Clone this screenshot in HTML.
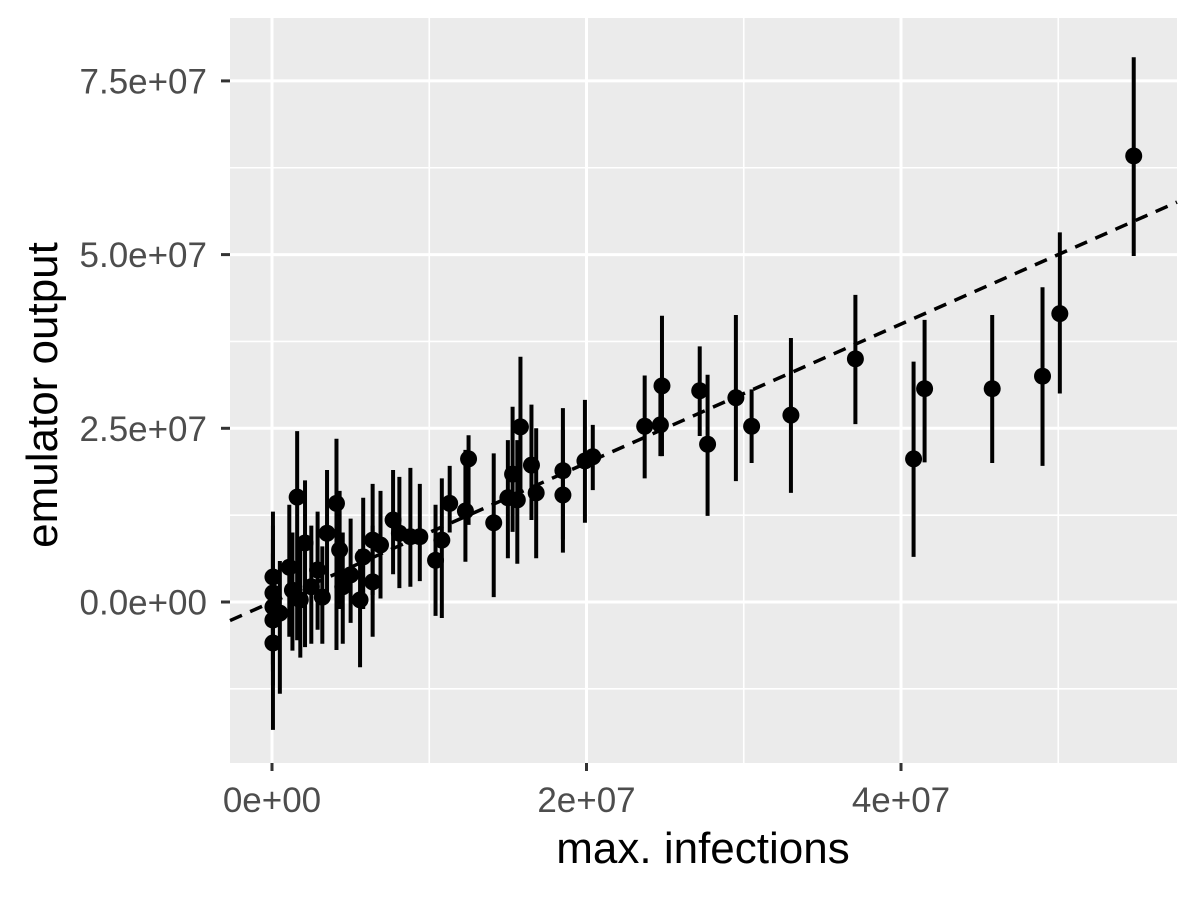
<!DOCTYPE html>
<html><head><meta charset="utf-8"><style>
html,body{margin:0;padding:0;background:#fff}
svg{display:block;font-family:"Liberation Sans",sans-serif}
</style></head><body>
<svg id="chart" width="1200" height="900">
<rect x="0" y="0" width="1200" height="900" fill="#fff"/>
<rect x="230" y="18" width="947" height="745" fill="#ebebeb"/>
<g id="grid"></g>
<g id="marks"></g>
<g id="axes"></g>
<text x="703" y="863" font-size="44" text-anchor="middle" fill="#000">max. infections</text>
<text transform="translate(57,395) rotate(-90)" font-size="44" text-anchor="middle" fill="#000">emulator output</text>
</svg>
<script>
// values in millions
const xs  = [54.8,50.1,49.0,45.8,41.5,40.8,37.1,33.0,30.5,29.5,27.7,27.2,24.8,24.7,23.7,20.4,19.9,18.5,18.5,16.8,16.5,15.8,15.6,15.3,15.0,14.1,12.5,12.3,11.3,10.8,10.4,
 8.8,8.1,9.4,6.4,5.8,6.4,5.6,4.1,3.5,4.3,4.5,1.6,2.1,2.9,3.2,1.1,0.06,0.06,0.06,0.06,0.06,0.5,1.3,1.8,2.5,6.9,5.0,7.7];
const ys  = [64.2,41.5,32.5,30.7,30.7,20.6,35.0,26.9,25.3,29.4,22.7,30.4,31.1,25.5,25.3,20.9,20.3,18.9,15.4,15.7,19.7,25.2,14.7,18.4,15.0,11.4,20.6,13.1,14.2,8.9,6.0,
 9.4,9.9,9.4,8.9,6.5,2.9,0.3,14.2,9.9,7.5,2.2,15.1,8.5,4.6,0.7,5.0,3.6,1.3,-0.7,-2.6,-5.9,-1.6,1.7,0.3,2.2,8.2,3.9,11.8];
const los = [49.8,30.0,19.6,20.0,20.1,6.5,25.6,15.7,20.0,17.4,12.4,23.9,21.0,21.0,17.8,16.1,11.4,7.1,9.0,6.3,11.8,15.1,5.5,10.1,6.3,0.7,11.1,5.8,10.0,-2.3,-2.0,
 2.2,2.0,3.0,1.0,-1.0,-5.0,-9.4,-6.9,1.0,-1.0,-6.0,-5.5,-6.5,-4.0,-6.0,-5.0,-6.0,-9.0,-10.0,-12.0,-18.4,-13.2,-7.0,-8.0,-6.0,0.5,-3.0,4.0];
const his = [78.4,53.2,45.3,41.3,40.6,34.6,44.2,38.0,30.6,41.3,32.7,36.8,41.2,31.9,32.6,25.5,29.1,27.9,24.8,25.0,28.4,35.3,23.3,28.1,23.3,21.4,24.0,21.9,19.6,17.8,14.0,
 19.3,18.0,17.0,17.0,15.0,11.0,7.6,23.5,19.0,16.0,10.0,24.6,17.5,13.0,8.0,14.0,13.0,11.0,9.0,7.0,3.3,5.9,10.0,9.0,11.0,16.0,12.0,19.0];
const xTicks = [0,20,40];
const xTickLabels = ["0e+00","2e+07","4e+07"];
const xMinor = [10,30,50];
const yTicks = [0,25,50,75];
const yTickLabels = ["0.0e+00","2.5e+07","5.0e+07","7.5e+07"];
const yMinor = [-12.5,12.5,37.5,62.5];

const X = v => 272 + v*15.725;
const Y = v => 602 - v*6.948;
const NS = "http://www.w3.org/2000/svg";
const grid = document.getElementById('grid'), marks = document.getElementById('marks'), axes = document.getElementById('axes');
function mk(tag, attrs, parent){const e=document.createElementNS(NS,tag);for(const k in attrs)e.setAttribute(k,attrs[k]);parent.appendChild(e);return e;}

xMinor.forEach(v=>{const l=mk('line',{x1:X(v),x2:X(v),y1:18,y2:763,stroke:'#fff','stroke-width':1.6},grid);

});
yMinor.forEach(v=>{const l=mk('line',{x1:230,x2:1177,y1:Y(v),y2:Y(v),stroke:'#fff','stroke-width':1.6},grid);

});
xTicks.forEach((v,i)=>{const l=mk('line',{x1:X(v),x2:X(v),y1:18,y2:763,stroke:'#fff','stroke-width':3},grid);


const t=mk('line',{x1:X(v),x2:X(v),y1:763,y2:771,stroke:'#333','stroke-width':3},axes);


const tx=mk('text',{x:X(v),y:812,'font-size':35,'text-anchor':'middle',fill:'#4d4d4d'},axes);tx.textContent=xTickLabels[i];

});
yTicks.forEach((v,i)=>{const l=mk('line',{x1:230,x2:1177,y1:Y(v),y2:Y(v),stroke:'#fff','stroke-width':3},grid);


const t=mk('line',{x1:221,x2:230,y1:Y(v),y2:Y(v),stroke:'#333','stroke-width':3},axes);


const tx=mk('text',{x:207,y:Y(v)+12.5,'font-size':35,'text-anchor':'end',fill:'#4d4d4d'},axes);tx.textContent=yTickLabels[i];

});

xs.forEach((v,i)=>{
 const e=mk('line',{x1:X(v),x2:X(v),y1:Y(his[i]),y2:Y(los[i]),stroke:'#000','stroke-width':4},marks);
 
 
});
xs.forEach((v,i)=>{
 const c=mk('circle',{cx:X(v),cy:Y(ys[i]),r:8.5,fill:'#000'},marks);
 
 
});
const x0=-2.67, x1=57.55;
const dl=mk('line',{x1:X(x0),y1:Y(x0),x2:X(x1),y2:Y(x1),stroke:'#000','stroke-width':3.5,'stroke-dasharray':'13,9'},marks);


</script>
</body></html>
